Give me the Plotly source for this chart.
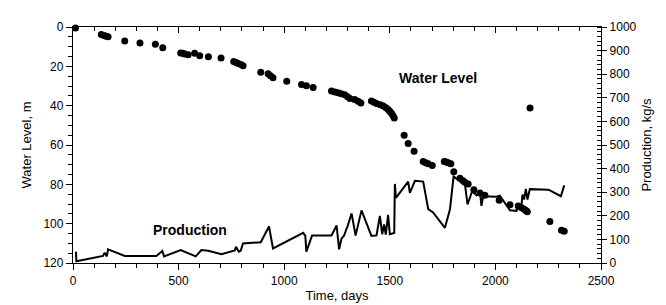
import plotly.graph_objects as go

# Water level observations (days, m)
wl_days = [12, 134, 147, 157, 166, 245, 317, 390, 425, 510, 520, 529, 545, 576, 600, 641, 701,
           761, 772, 782, 795, 805, 889, 924, 935, 947, 1012, 1082, 1105, 1137, 1224, 1240, 1255,
           1270, 1287, 1300, 1311, 1334, 1350, 1363, 1413, 1425, 1437, 1455, 1469, 1482, 1492,
           1500, 1508, 1515, 1521, 1568, 1587, 1615, 1658, 1670, 1682, 1701, 1758, 1767, 1776,
           1789, 1803, 1832, 1845, 1855, 1871, 1898, 1927, 1950, 2018, 2069, 2108, 2124, 2136,
           2145, 2151, 2164, 2258, 2313, 2326]
wl_level = [0.5, 3.8, 4.3, 4.7, 5.0, 7.1, 8.1, 8.8, 10.6, 13.2, 13.4, 13.7, 14.1, 13.4, 14.6, 15.1,
            15.7, 17.5, 18.0, 18.5, 19.1, 19.7, 23.0, 23.8, 24.8, 25.8, 27.6, 29.3, 29.9, 30.8,
            32.6, 33.0, 33.4, 33.9, 34.4, 35.5, 36.4, 36.9, 37.8, 38.6, 37.6, 38.2, 38.9, 39.5,
            40.2, 41.0, 41.9, 42.8, 43.8, 45.0, 46.3, 55.1, 59.2, 63.2, 68.4, 69.0, 69.5, 70.4,
            68.4, 68.7, 69.0, 69.5, 73.6, 76.9, 78.0, 78.9, 79.8, 82.8, 84.4, 85.6, 88.1, 90.4,
            91.0, 91.9, 92.7, 93.3, 93.9, 41.2, 98.9, 103.4, 103.9]

# Production history (days, kg/s)
pr_days = [14, 16, 142, 150, 160, 166, 245, 395, 423, 431, 510, 537, 548, 581, 608, 640, 703, 766,
           772, 785, 794, 805, 889, 928, 947, 1090, 1100, 1105, 1132, 1224, 1248, 1260, 1271, 1284,
           1295, 1300, 1319, 1338, 1366, 1413, 1437, 1453, 1464, 1473, 1481, 1492, 1500, 1521,
           1524, 1529, 1587, 1595, 1619, 1658, 1682, 1705, 1761, 1785, 1802, 1832, 1855, 1868,
           1890, 1911, 1927, 1934, 1942, 2005, 2021, 2069, 2100, 2108, 2124, 2128, 2136, 2144,
           2152, 2163, 2250, 2258, 2310, 2326]
pr_rate = [48, 7, 30, 44, 28, 58, 30, 30, 51, 28, 55, 44, 42, 28, 55, 52, 37, 53, 69, 48, 52, 83,
           88, 155, 62, 128, 115, 48, 117, 117, 159, 58, 103, 117, 145, 155, 210, 116, 223, 115,
           117, 200, 122, 163, 120, 204, 122, 127, 335, 276, 345, 297, 348, 345, 228, 214, 149,
           228, 366, 348, 340, 248, 304, 287, 301, 242, 283, 281, 285, 223, 221, 242, 249, 290,
           269, 314, 269, 313, 310, 308, 283, 329]

FONT = "Liberation Sans, Arial, sans-serif"

fig = go.Figure()
fig.add_trace(go.Scatter(x=wl_days, y=wl_level, mode="markers", yaxis="y",
                         marker=dict(size=7, color="black"), cliponaxis=False,
                         showlegend=False))
fig.add_trace(go.Scatter(x=pr_days, y=pr_rate, mode="lines", yaxis="y2",
                         line=dict(color="black", width=2), showlegend=False))

axis_common = dict(showline=True, linecolor="black", linewidth=1.3, showgrid=False,
                   zeroline=False, tickcolor="black", tickwidth=1,
                   tickfont=dict(family=FONT, size=12, color="black"))

fig.update_layout(
    width=666, height=305,
    margin=dict(l=65, r=73, t=15, b=48),
    paper_bgcolor="white", plot_bgcolor="white",
    font=dict(family=FONT, color="black"),
    xaxis=dict(range=[0, 2500], dtick=500, ticks="outside", ticklen=6,
               minor=dict(dtick=100, ticks="outside", ticklen=4, tickcolor="black"),
               title=dict(text="Time, days", font=dict(family=FONT, size=13), standoff=4),
               **axis_common),
    xaxis2=dict(range=[0, 2500], dtick=500, ticks="inside", ticklen=6, overlaying="x",
                side="top", showticklabels=False,
                minor=dict(dtick=100, ticks="inside", ticklen=4, tickcolor="black"),
                **axis_common),
    yaxis=dict(range=[120, 0], dtick=20, ticks="outside", ticklen=6,
               minor=dict(dtick=5, ticks="outside", ticklen=4, tickcolor="black"),
               title=dict(text="Water Level, m", font=dict(family=FONT, size=13), standoff=8),
               **axis_common),
    yaxis2=dict(range=[0, 1000], dtick=100, ticks="outside", ticklen=5, overlaying="y",
                side="right",
                minor=dict(dtick=20, ticks="inside", ticklen=4, tickcolor="black"),
                title=dict(text="Production, kg/s", font=dict(family=FONT, size=13), standoff=6),
                **axis_common),
    annotations=[
        dict(x=1729, y=25.7, xref="x", yref="y", text="<b>Water Level</b>", showarrow=False,
             font=dict(family=FONT, size=14, color="black")),
        dict(x=553, y=138, xref="x", yref="y2", text="<b>Production</b>", showarrow=False,
             font=dict(family=FONT, size=14, color="black")),
    ],
)
# dummy trace to activate top axis
fig.add_trace(go.Scatter(x=[None], y=[None], xaxis="x2", yaxis="y", showlegend=False,
                         hoverinfo="skip"))

fig.write_html("out.html")
